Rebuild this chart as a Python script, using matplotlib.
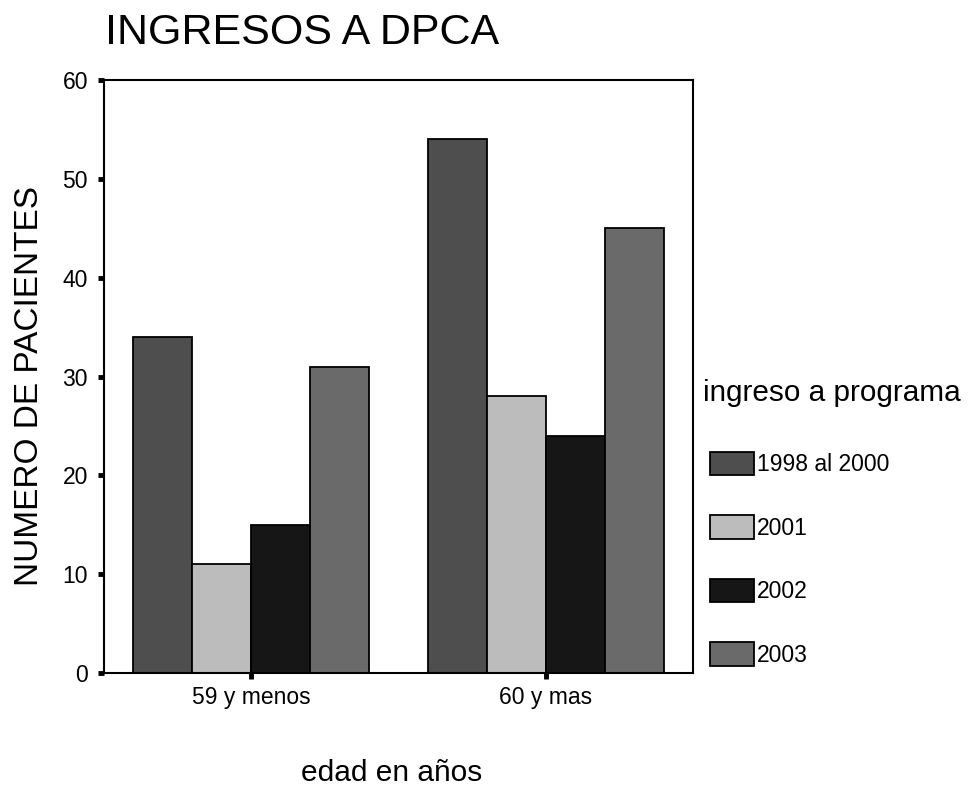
import numpy as np
import matplotlib.pyplot as plt
from matplotlib.patches import Patch

plt.rcParams['font.family'] = ['Liberation Sans', 'DejaVu Sans']

# Data
groups = ["59 y menos", "60 y mas"]
series = ["1998 al 2000", "2001", "2002", "2003"]
values_1998_2000 = [34, 54]
values_2001 = [11, 28]
values_2002 = [15, 24]
values_2003 = [31, 45]
all_values = [values_1998_2000, values_2001, values_2002, values_2003]
colors = ["#4e4e4e", "#bcbcbc", "#161616", "#6a6a6a"]

fig = plt.figure(figsize=(9.73, 7.9), dpi=100)
ax = fig.add_axes([104 / 973, 1 - 673 / 790, 589 / 973, 593 / 790])

x = np.arange(len(groups))
width = 0.2
for i, (vals, col) in enumerate(zip(all_values, colors)):
    ax.bar(x + (i - 1.5) * width, vals, width, color=col,
           edgecolor="black", linewidth=1.3)

ax.set_xlim(-0.5, 1.5)
ax.set_ylim(0, 60)
ax.set_yticks(range(0, 61, 10))
ax.set_xticks(x)
ax.set_xticklabels(groups)

for s in ax.spines.values():
    s.set_linewidth(1.5)
ax.tick_params(axis="y", direction="out", length=4.5, width=3.5,
               pad=7, labelsize=16.5)
ax.tick_params(axis="x", direction="out", length=4.5, width=3.5,
               pad=5, labelsize=16.5)

# Titles and axis labels
fig.text(105 / 973, 1 - 33 / 790, "INGRESOS A DPCA", fontsize=31,
         ha="left", va="center")
fig.text(30 / 973, 1 - 386 / 790, "NUMERO DE PACIENTES", fontsize=24,
         rotation=90, ha="center", va="center")
fig.text(392 / 973, 1 - 773 / 790, "edad en años", fontsize=21.5,
         ha="center", va="center")

# Legend
fig.text(703 / 973, 1 - 393 / 790, "ingreso a programa", fontsize=21.4,
         ha="left", va="center")
handles = [Patch(facecolor=c, edgecolor="black", linewidth=1.3) for c in colors]
fig.legend(handles, series, loc="upper left",
           bbox_to_anchor=(710 / 973, 1 - 452 / 790),
           frameon=False, fontsize=16.5, borderpad=0, borderaxespad=0,
           handlelength=1.9, handleheight=1.2, handletextpad=0.15,
           labelspacing=1.7)

fig.savefig("out.png", dpi=100)
